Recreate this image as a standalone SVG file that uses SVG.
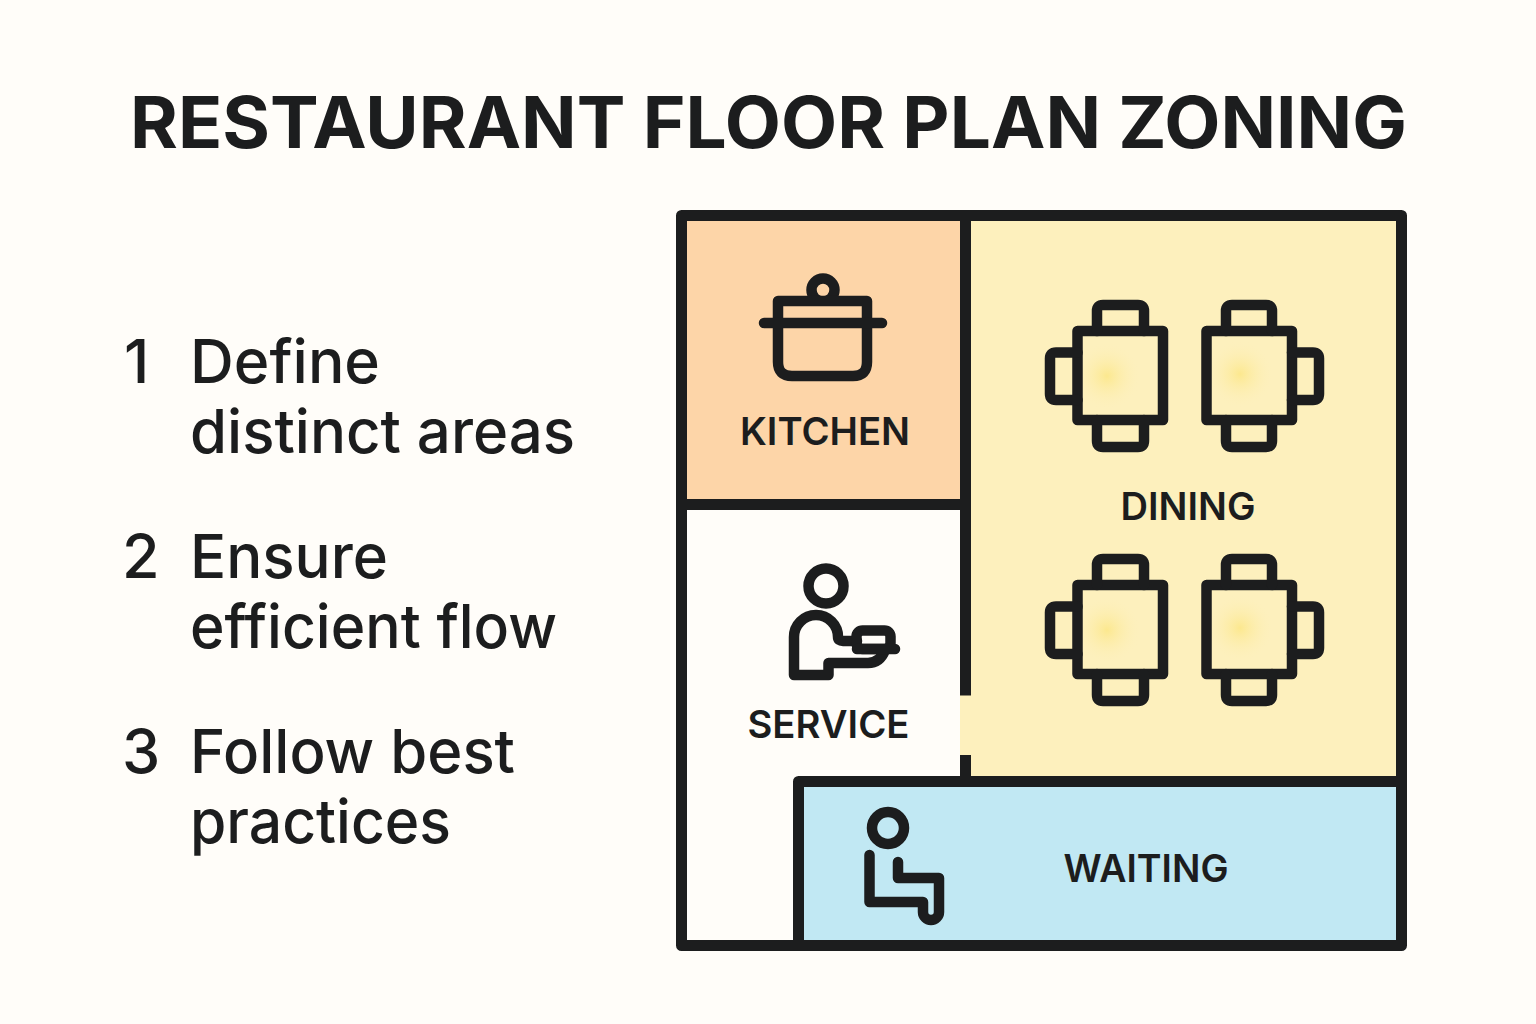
<svg xmlns="http://www.w3.org/2000/svg" width="1536" height="1024" viewBox="0 0 1536 1024">
<style>
text{font-family:"Inter","Noto Sans","Liberation Sans",sans-serif;fill:#1c1d1e}
.title{font-size:71px;font-weight:700}
.list{font-size:61px;font-weight:500}
.zone{font-size:38.500px;font-weight:600}
.w{fill:none;stroke:#1c1d1e;stroke-width:11;stroke-linejoin:round}
.i{fill:none;stroke:#1c1d1e;stroke-width:10.500;stroke-linejoin:round;stroke-linecap:round}
</style>
<defs>
<radialGradient id="glow"><stop offset="0" stop-color="#fce88e"/><stop offset="1" stop-color="#fdf0bd" stop-opacity="0"/></radialGradient>
<g id="table-l"><circle cx="1107" cy="376" r="34" fill="url(#glow)"/><rect x="1077.500" y="331" width="85.500" height="89" class="i"/><path class="i" d="M1097 331V311Q1097 305 1103 305H1138Q1144 305 1144 311V331M1097 420V441Q1097 447 1103 447H1138Q1144 447 1144 441V420M1077.500 352.500H1056Q1050 352.500 1050 358.500V394Q1050 400 1056 400H1077.500"/></g>
<g id="table-r"><circle cx="1240" cy="374" r="34" fill="url(#glow)"/><rect x="1206.500" y="331" width="85.500" height="89" class="i"/><path class="i" d="M1226 331V311Q1226 305 1232 305H1266Q1272 305 1272 311V331M1226 420V441Q1226 447 1232 447H1266Q1272 447 1272 441V420M1292 352.500H1313Q1319 352.500 1319 358.500V394Q1319 400 1313 400H1292"/></g>
</defs>
<rect width="1536" height="1024" fill="#fffdf9"/>
<g id="title"><text class="title" x="130" y="147.500" textLength="1277" lengthAdjust="spacingAndGlyphs">RESTAURANT FLOOR PLAN ZONING</text></g>
<g id="list">
<text class="list" x="124" y="383">1</text><text class="list" x="190" y="383" textLength="190" lengthAdjust="spacingAndGlyphs">Define</text><text class="list" x="190" y="453" textLength="385" lengthAdjust="spacingAndGlyphs">distinct areas</text>
<text class="list" x="122" y="578">2</text><text class="list" x="190" y="578" textLength="198" lengthAdjust="spacingAndGlyphs">Ensure</text><text class="list" x="190" y="648" textLength="367" lengthAdjust="spacingAndGlyphs">efficient flow</text>
<text class="list" x="122" y="773">3</text><text class="list" x="190" y="773" textLength="325" lengthAdjust="spacingAndGlyphs">Follow best</text><text class="list" x="190" y="843" textLength="261" lengthAdjust="spacingAndGlyphs">practices</text>
</g>
<g id="kitchen">
<rect x="686" y="221" width="275" height="278" fill="#fdd5a8"/>
<circle cx="823" cy="290" r="11.500" class="i"/>
<path d="M778 301H867V362Q867 376 853 376H792Q778 376 778 362Z" class="i" style="fill:#fdd5a8"/>
<path class="i" d="M764 323H882"/>
<text class="zone" x="825" y="445" text-anchor="middle" textLength="170" lengthAdjust="spacingAndGlyphs">KITCHEN</text>
</g>
<g id="dining">
<rect x="960" y="221" width="437" height="556" fill="#fdf0bd"/>
<use href="#table-l"/><use href="#table-r"/>
<use href="#table-l" y="254"/><use href="#table-r" y="254"/>
<text class="zone" x="1188" y="520" text-anchor="middle" textLength="135" lengthAdjust="spacingAndGlyphs">DINING</text>
</g>
<g id="service">
<rect x="686" y="510" width="274" height="430" fill="#fffdf9"/>
<circle cx="826" cy="586" r="17.500" class="i"/>
<path class="i" d="M828.500 675H794V637A22 22 0 0 1 838 637Q838 641 843 641H857M828.500 675V663H868Q880 663 885 650"/>
<rect x="856.500" y="630.500" width="34" height="18.500" rx="6" class="i"/>
<path class="i" d="M857 649H895"/>
<text class="zone" x="828.500" y="738" text-anchor="middle" textLength="162" lengthAdjust="spacingAndGlyphs">SERVICE</text>
</g>
<g id="waiting">
<rect x="798.500" y="781.500" width="603" height="164" fill="#c1e8f3"/>
<circle cx="888" cy="828" r="16" class="i"/>
<path class="i" d="M869.500 855V902H923V912A8 8 0 0 0 939 912V878H898V862"/>
<text class="zone" x="1146" y="882" text-anchor="middle" textLength="165" lengthAdjust="spacingAndGlyphs">WAITING</text>
</g>
<g id="walls">
<rect x="681.500" y="215.500" width="720" height="730" class="w"/>
<path class="w" d="M965.500 216V695.500M686 504.500H965M965.500 755V781M798.500 945V781.500H1401"/>
</g>
</svg>
